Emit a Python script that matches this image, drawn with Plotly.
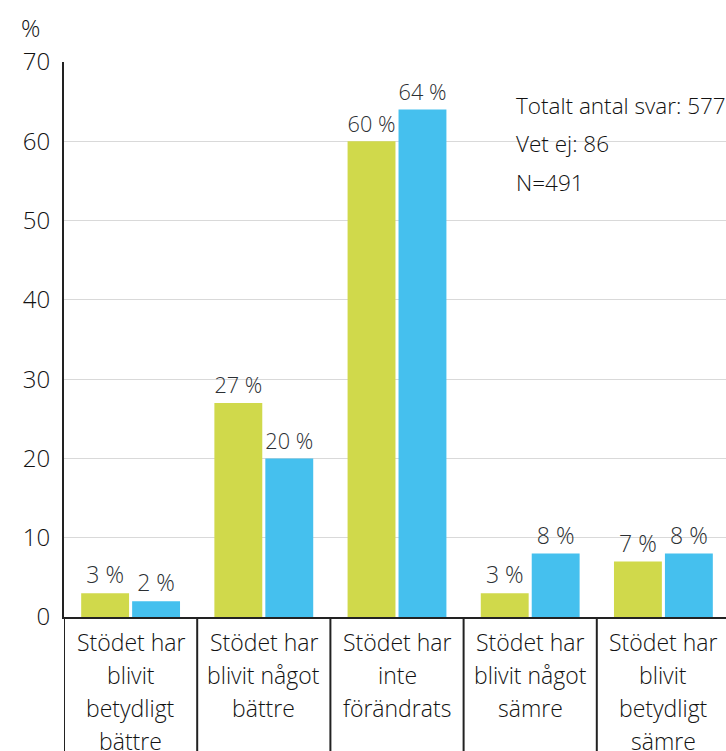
import plotly.graph_objects as go

# ---- data ----
category_lines = [
    ["Stödet har", "blivit", "betydligt", "bättre"],
    ["Stödet har", "blivit något", "bättre"],
    ["Stödet har", "inte", "förändrats"],
    ["Stödet har", "blivit något", "sämre"],
    ["Stödet har", "blivit", "betydligt", "sämre"],
]
categories = [" ".join(l) for l in category_lines]
green_values = [3, 27, 60, 3, 7]
blue_values = [2, 20, 64, 8, 8]
y_tickvals = [0, 10, 20, 30, 40, 50, 60, 70]
info_lines = ["Totalt antal svar: 577", "Vet ej: 86", "N=491"]
y_unit = "%"

# ---- style ----
W, H = 726, 751
ML, MR, MT, MB = 64, 0, 62, 134
FONT = "Open Sans"
FW = 300
TXT = "#2b2f33"
DARK = "#121212"
GREEN = "#d0d94b"
BLUE = "#45c0ee"
AXIS = "#222222"
GRID = "#d9d9d9"

def font(size, color=TXT, weight=FW):
    return dict(family=FONT, size=size, color=color, weight=weight)

fig = go.Figure()
fig.add_trace(go.Bar(
    x=categories, y=green_values, name="Serie 1",
    marker=dict(color=GREEN, line=dict(width=0)),
    texttemplate="%{y} %", textposition="outside", cliponaxis=False,
    textfont=font(23),
))
fig.add_trace(go.Bar(
    x=categories, y=blue_values, name="Serie 2",
    marker=dict(color=BLUE, line=dict(width=0)),
    texttemplate="%{y} %", textposition="outside", cliponaxis=False,
    textfont=font(23),
))

annotations = []
# category labels, one annotation per line
for cat, lines in zip(categories, category_lines):
    for i, line in enumerate(lines):
        annotations.append(dict(
            x=cat, xref="x", y=0, yref="paper", yanchor="middle", xanchor="center",
            yshift=-25 - 33 * i, text=line, showarrow=False,
            font=font(23, DARK),
        ))
# unit label
annotations.append(dict(
    x=0, xref="paper", xshift=-34, y=1, yref="paper", yshift=35,
    xanchor="center", yanchor="middle", text=y_unit, showarrow=False,
    font=font(24, DARK),
))
# info box
for i, line in enumerate(info_lines):
    annotations.append(dict(
        x=0, xref="paper", xshift=450, y=1, yref="paper", yshift=-43 - 38.5 * i,
        xanchor="left", yanchor="middle", text=line, showarrow=False,
        font=font(22.5, DARK),
    ))

shapes = []
# white background behind info text
shapes.append(dict(type="rect", xref="paper", yref="paper",
                   x0=(495 - ML) / (W - ML - MR), x1=1.0,
                   y0=1 - (200 - MT) / (H - MT - MB), y1=1 - (72 - MT) / (H - MT - MB),
                   fillcolor="white", line=dict(width=0), layer="below"))
# category separators below axis
for k in range(len(categories)):
    shapes.append(dict(type="line", xref="x", yref="paper",
                       x0=k - 0.5, x1=k - 0.5, y0=0, y1=-0.3,
                       line=dict(color=AXIS, width=2)))

fig.update_layout(
    width=W, height=H,
    margin=dict(l=ML, r=MR, t=MT, b=MB),
    paper_bgcolor="white", plot_bgcolor="white",
    barmode="group", bargap=0.235, bargroupgap=0.06,
    showlegend=False,
    font=font(22),
    annotations=annotations, shapes=shapes,
)
fig.update_xaxes(
    range=[-0.5, len(categories) - 0.5 - 4 / 133.3],
    showticklabels=False, ticks="",
    showline=True, linecolor=AXIS, linewidth=2,
    showgrid=False, zeroline=False,
)
fig.update_yaxes(
    range=[0, 70], tickvals=y_tickvals, ticks="",
    showline=True, linecolor=AXIS, linewidth=2,
    showgrid=True, gridcolor=GRID, gridwidth=1, zeroline=False,
    tickfont=font(24, DARK),
    ticklabelstandoff=7,
)

fig.write_html("out.html")
